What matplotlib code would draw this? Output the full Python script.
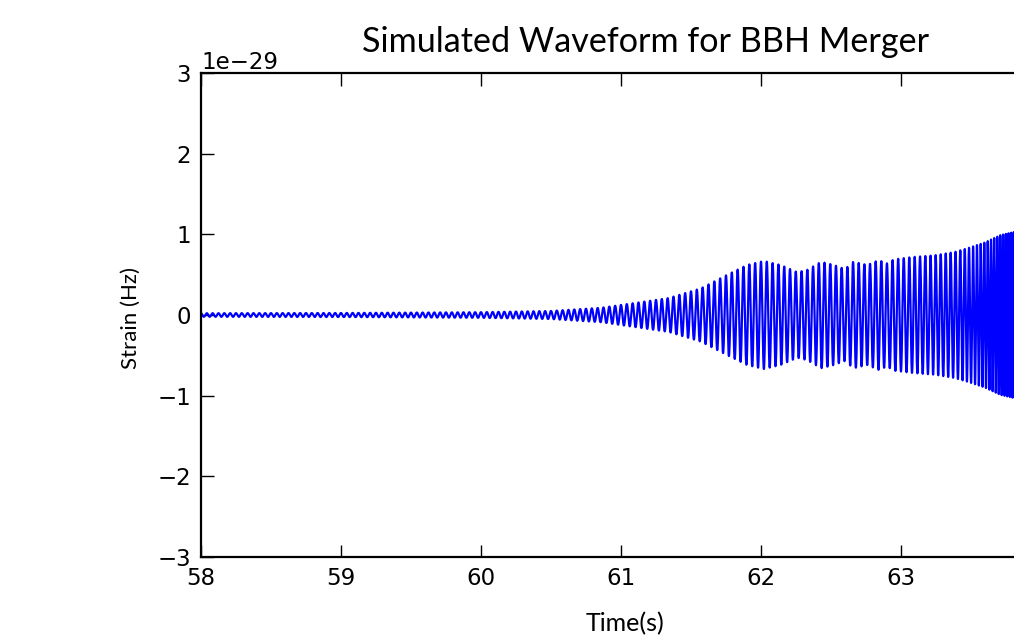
import numpy as np
import matplotlib.pyplot as plt

# envelope of the strain (units of 1e-29)
env_t = [58.0, 59.0, 60.0, 60.5, 60.86, 61.34, 61.57, 61.76, 61.9, 62.02, 62.14,
         62.26, 62.33, 62.43, 62.52, 62.6, 62.66, 62.76, 62.84, 62.9, 62.95,
         63.09, 63.24, 63.38, 63.48, 63.6, 63.71, 63.81, 64.0]
env_amp = [0.022, 0.025, 0.035, 0.05, 0.09, 0.21, 0.33, 0.5, 0.62, 0.67, 0.62,
           0.53, 0.56, 0.66, 0.62, 0.57, 0.66, 0.62, 0.68, 0.64, 0.69,
           0.72, 0.74, 0.78, 0.83, 0.9, 0.99, 1.03, 1.1]

# apparent oscillation frequency (Hz), from the spacing of the cycles
freq_t = [58.0, 60.0, 61.0, 62.0, 63.0, 63.4, 63.6, 63.8, 64.0]
freq_hz = [24, 24, 24, 24, 25, 29, 40, 55, 60]

xticks = [58, 59, 60, 61, 62, 63]

fs = 4096
t = np.arange(58.0, 64.0, 1.0 / fs)
amp = np.interp(t, env_t, env_amp)
f = np.interp(t, freq_t, freq_hz)
phase = 2 * np.pi * np.cumsum(f) / fs
strain = amp * np.cos(phase) * 1e-29

fig = plt.figure(figsize=(10.14, 6.36), dpi=100)
ax = fig.add_axes([201 / 1014, (636 - 557) / 636, 889 / 1014, 484 / 636])

ax.plot(t, strain, color='#0000ff', linewidth=1.6)

ax.set_xlim(58, 64.35)
ax.set_ylim(-3e-29, 3e-29)
ax.set_xticks(xticks)
ax.tick_params(direction='in', top=True, right=True, length=9, width=1,
               labelsize=16.5, pad=7)
for s in ax.spines.values():
    s.set_linewidth(1.6)
ax.yaxis.get_offset_text().set_fontsize(16.5)

ax.set_title("Simulated Waveform for BBH Merger", family='Lato', fontsize=24.6, pad=15)
fig.text(625 / 1014, 1 - 624 / 636, "Time(s)", family='Lato', fontsize=18,
         ha='center', va='center')
fig.text(131 / 1014, 1 - 318 / 636, "Strain (Hz)", family='Lato', fontsize=16,
         ha='center', va='center', rotation=90)

fig.savefig('out.png', dpi=100)
